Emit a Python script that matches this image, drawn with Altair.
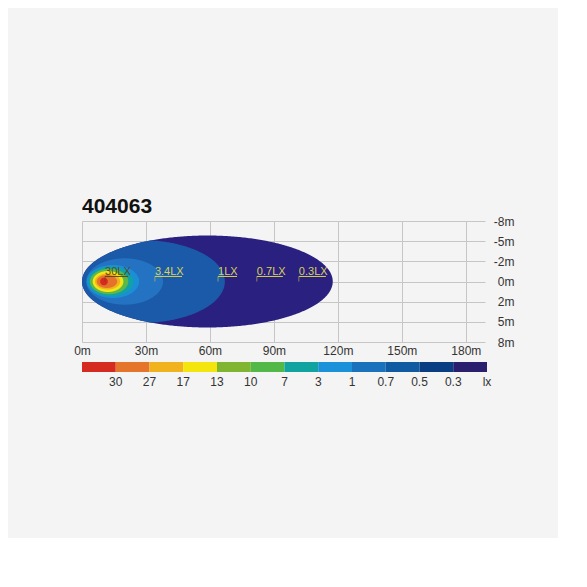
import altair as alt
import pandas as pd
import numpy as np

# ---------------- data ----------------
title_text = "404063"
x_tick_values = [0, 30, 60, 90, 120, 150, 180]
y_tick_positions = [-3, -2, -1, 0, 1, 2, 3]
y_tick_labels = ["-8m", "-5m", "-2m", "0m", "2m", "5m", "8m"]

# iso-lux contours (outermost first): centre x (m), half length (m), half width (grid units)
contour_colors = ["#2a2080", "#1b5aa8", "#2472c2", "#1a8fd6", "#12a2a6",
                  "#5cb848", "#f5e514", "#f0b21e", "#e4722a", "#d42a20"]
contour_cx = [58.8, 28.0, 20.0, 14.5, 13.5, 12.7, 12.2, 12.0, 11.7, 10.3]
contour_rx = [58.8, 39.0, 18.0, 12.3, 10.5, 9.0, 7.2, 5.9, 4.8, 1.8]
contour_ry = [2.28, 2.05, 1.15, 0.82, 0.73, 0.63, 0.52, 0.40, 0.32, 0.19]

# annotations
ann_text = ["30LX", "3.4LX", "1LX", "0.7LX", "0.3LX"]
ann_x = [10.8, 34.2, 63.8, 82.0, 101.7]
ann_w = [10.8, 12.7, 8.9, 12.2, 12.7]
ann_color = ["#5a4a1c", "#d8d058", "#d8d058", "#d8d058", "#d8d058"]

# colour scale legend
legend_colors = ["#d42a20", "#e4752a", "#f0b31e", "#f5e50f", "#7fb530", "#52b848",
                 "#10a3a0", "#1a91d8", "#1a72bd", "#0f5aa0", "#0a3e82", "#2a1e6e"]
legend_labels = ["30", "27", "17", "13", "10", "7", "3", "1", "0.7", "0.5", "0.3", "lx"]

FONT = "Liberation Sans"

# ---------------- build contour shapes ----------------
t = np.linspace(np.pi, 0, 241)
ocx, orx, ory = contour_cx[0], contour_rx[0], contour_ry[0]


def outer_h(x):
    u = np.clip((x - ocx) / orx, -1, 1)
    return ory * np.sqrt(1 - u ** 2)


xscale = alt.Scale(domain=[0, 189], nice=False, zero=False)
yscale = alt.Scale(domain=[-3, 3], nice=False, zero=False, reverse=True)

label_expr = "[" + ",".join("'%s'" % s for s in y_tick_labels) + "][datum.value + 3]"

x_axis = alt.Axis(values=x_tick_values, tickCount=20, labelExpr="datum.value + 'm'",
                  title=None, ticks=False, domain=False, grid=True, gridColor="#c6c6c6",
                  labelFontSize=12, labelFont=FONT, labelColor="#333333",
                  labelPadding=3, labelOverlap=False, labelFlush=False)
y_axis = alt.Axis(orient="right", values=y_tick_positions, tickCount=20,
                  labelExpr=label_expr, title=None, ticks=False, domain=False, grid=True,
                  gridColor="#c6c6c6", labelAlign="right", labelPadding=29,
                  labelOverlap=False, labelFlush=False, labelFontSize=12, labelFont=FONT,
                  labelColor="#333333")

axis_layer = alt.Chart(alt.Data(values=[{"x": 0, "y": 0}])).mark_point(opacity=0).encode(
    x=alt.X("x:Q", scale=xscale, axis=x_axis),
    y=alt.Y("y:Q", scale=yscale, axis=y_axis),
)

layers = []
for i, col in enumerate(contour_colors):
    xs = contour_cx[i] + contour_rx[i] * np.cos(t)
    hs = contour_ry[i] * np.sin(t)
    if i > 0:
        hs = np.minimum(hs, outer_h(xs))
        keep = xs >= 0
        xs, hs = xs[keep], hs[keep]
    records = [{"x": float(a), "lo": float(-b), "hi": float(b)} for a, b in zip(xs, hs)]
    layers.append(
        alt.Chart(alt.Data(values=records)).mark_area(
            color=col, orient="vertical", opacity=1
        ).encode(
            x=alt.X("x:Q", scale=xscale, axis=x_axis),
            y=alt.Y("lo:Q", scale=yscale, axis=y_axis),
            y2="hi:Q",
        )
    )

ann_df = pd.DataFrame({
    "text": ann_text, "x": ann_x, "x2": [a + b for a, b in zip(ann_x, ann_w)],
    "col": ann_color,
})
ann_text_layer = alt.Chart(ann_df).mark_text(
    align="left", baseline="alphabetic", fontSize=11, font=FONT
).encode(x="x:Q", y=alt.datum(-0.33), text="text:N",
         color=alt.Color("col:N", scale=None))
ann_under = alt.Chart(ann_df).mark_rule(strokeWidth=1).encode(
    x="x:Q", x2="x2:Q", y=alt.datum(-0.25),
    color=alt.Color("col:N", scale=None))
ann_tick = alt.Chart(ann_df).mark_rule(strokeWidth=0.8, opacity=0.7).encode(
    x="x:Q", y=alt.datum(-0.25), y2=alt.datum(0.0),
    color=alt.Color("col:N", scale=None))

top = alt.layer(axis_layer, *layers, ann_text_layer, ann_under, ann_tick).properties(
    width=403, height=121,
    title=alt.TitleParams(title_text, anchor="start", frame="group", fontSize=21,
                          fontWeight="bold", font=FONT, color="#111111", offset=-2),
)

leg_df = pd.DataFrame({
    "i": list(range(len(legend_colors))),
    "i2": [k + 1 for k in range(len(legend_colors))],
    "col": legend_colors,
    "lab": legend_labels,
})
lscale = alt.Scale(domain=[0, 12], nice=False, zero=False)
leg_rect = alt.Chart(leg_df).mark_rect().encode(
    x=alt.X("i:Q", scale=lscale, axis=None), x2="i2:Q",
    y=alt.value(0), y2=alt.value(10),
    color=alt.Color("col:N", scale=None))
leg_text = alt.Chart(leg_df).mark_text(fontSize=12, font=FONT, color="#333333",
                                        baseline="middle").encode(
    x=alt.X("i2:Q", scale=lscale, axis=None), y=alt.value(20), text="lab:N")
legend = alt.layer(leg_rect, leg_text).properties(width=405, height=10)

chart = alt.vconcat(top, legend, spacing=20, bounds="flush").properties(
    padding={"left": 65, "top": 188, "right": 44, "bottom": 150},
    background="#f4f4f4",
).configure_view(stroke=None).configure_axis(labelOverlap=False)

chart.save("out.html", embed_options={"renderer": "svg", "actions": False})
